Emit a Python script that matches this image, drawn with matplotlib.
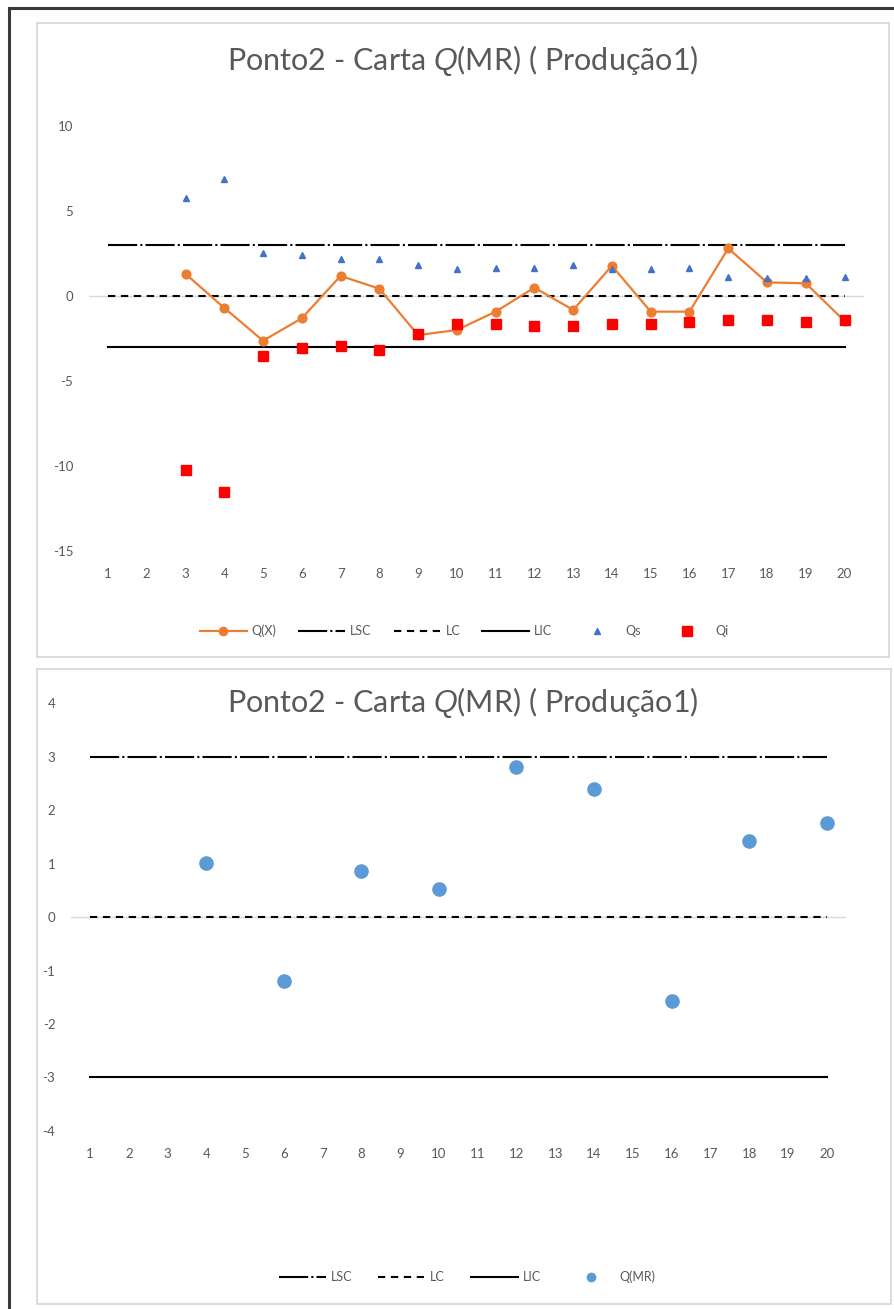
import numpy as np
import matplotlib
matplotlib.use("Agg")
import matplotlib.pyplot as plt
from matplotlib.lines import Line2D
from matplotlib.patches import Rectangle

# ---------------- data ----------------
samples = list(range(1, 21))
q_x = [np.nan, np.nan, 1.30, -0.70, -2.63, -1.31, 1.18, 0.43, -2.30, -2.00,
       -0.92, 0.49, -0.82, 1.78, -0.92, -0.92, 2.80, 0.80, 0.75, -1.47]
q_s = [np.nan, np.nan, 5.78, 6.86, 2.51, 2.39, 2.16, 2.16, 1.80, 1.57,
       1.67, 1.67, 1.80, 1.57, 1.57, 1.67, 1.10, 1.08, 1.08, 1.10]
q_i = [np.nan, np.nan, -10.23, -11.55, -3.53, -3.08, -2.94, -3.18, -2.25, -1.65,
       -1.65, -1.76, -1.76, -1.65, -1.65, -1.53, -1.41, -1.41, -1.53, -1.41]
lsc = [3.0] * 20
lc = [0.0] * 20
lic = [-3.0] * 20

q_mr = [np.nan, np.nan, np.nan, 1.01, np.nan, -1.20, np.nan, 0.86, np.nan, 0.53,
        np.nan, 2.81, np.nan, 2.40, np.nan, -1.58, np.nan, 1.43, np.nan, 1.76]

title_txt = r"Ponto2 - Carta $\mathit{Q}$(MR) ( Produção1)"
top_yticks = [-15, -10, -5, 0, 5, 10]
bot_yticks = [-4, -3, -2, -1, 0, 1, 2, 3, 4]

# ---------------- style ----------------
plt.rcParams["font.family"] = ["Lato", "DejaVu Sans"]
plt.rcParams["mathtext.fontset"] = "custom"
plt.rcParams["mathtext.it"] = "Liberation Sans:italic"
plt.rcParams["mathtext.rm"] = "Lato"
plt.rcParams["axes.unicode_minus"] = False

GRAY_TXT = "#595959"
ORANGE = "#ED7D31"
TRI = "#4472C4"
RED = "#FF0000"
BLUE = "#5B9BD5"
LSC_STYLE = (0, (14, 1.5, 1, 1.5))
LC_STYLE = (0, (3.5, 2.7))

W, H = 895, 1309
fig = plt.figure(figsize=(W / 100, H / 100), dpi=100)


def fx(px):
    return px / W


def fy(py):
    return 1 - py / H


# outer frame and chart boxes
fig.add_artist(Line2D([fx(8.5), fx(8.5)], [0, fy(7.5)], color="#3a3a3a", lw=2.2))
fig.add_artist(Line2D([fx(8.5), 1], [fy(7.5), fy(7.5)], color="#3a3a3a", lw=2.2))
for (x0, y0, x1, y1) in [(37, 23, 889, 657), (37, 669, 891, 1304)]:
    fig.add_artist(Rectangle((fx(x0), fy(y1)), fx(x1) - fx(x0), fy(y0) - fy(y1),
                             fill=False, edgecolor="#D9D9D9", lw=1.3))


def make_axes(left, right, top, bottom):
    ax = fig.add_axes([fx(left), fy(bottom), fx(right) - fx(left), fy(top) - fy(bottom)])
    for s in ax.spines.values():
        s.set_visible(False)
    ax.set_xlim(0.5, 20.5)
    ax.set_xticks(samples)
    ax.tick_params(axis="both", length=0, labelsize=9.5, labelcolor=GRAY_TXT)
    ax.tick_params(axis="x", pad=12.5)
    ax.tick_params(axis="y", pad=11)
    ax.axhline(0, color="#D9D9D9", lw=1.0, zorder=0)
    return ax


LEG_KW = dict(frameon=False, fontsize=9, labelcolor=GRAY_TXT, handlelength=3.75,
              handletextpad=0.4)

# ---------------- top chart ----------------
ax1 = make_axes(88.6, 863.9, 126, 551)
ax1.set_ylim(-15, 10)
ax1.set_yticks(top_yticks)
ax1.plot(samples, lsc, color="black", lw=1.5, ls=LSC_STYLE, zorder=2)
ax1.plot(samples, lc, color="black", lw=1.5, ls=LC_STYLE, zorder=2)
ax1.plot(samples, lic, color="black", lw=1.5, ls="-", zorder=2)
ax1.plot(samples, q_x, color=ORANGE, lw=1.6, marker="o", ms=6.3, zorder=3)
ax1.plot(samples, q_s, ls="none", marker="^", color=TRI, ms=5, zorder=4)
ax1.plot(samples, q_i, ls="none", marker="s", color=RED, ms=7, zorder=4)

fig.text(fx(463), fy(61), title_txt, ha="center", va="center",
         fontsize=22, color=GRAY_TXT)

h_top = [
    Line2D([], [], color=ORANGE, lw=1.6, marker="o", ms=6),
    Line2D([], [], color="black", lw=1.5, ls=LSC_STYLE),
    Line2D([], [], color="black", lw=1.5, ls=LC_STYLE),
    Line2D([], [], color="black", lw=1.5, ls="-"),
    Line2D([], [], ls="none", marker="^", color=TRI, ms=5),
    Line2D([], [], ls="none", marker="s", color=RED, ms=7),
]
fig.legend(h_top, ["Q(X)", "LSC", "LC", "LIC", "Qs", "Qi"], loc="center",
           bbox_to_anchor=(fx(464), fy(631)), ncol=6, columnspacing=1.75, **LEG_KW)

# ---------------- bottom chart ----------------
ax2 = make_axes(70.6, 846.0, 703.5, 1130.7)
ax2.set_ylim(-4, 4)
ax2.set_yticks(bot_yticks)
ax2.plot(samples, lsc, color="black", lw=1.5, ls=LSC_STYLE, zorder=2)
ax2.plot(samples, lc, color="black", lw=1.5, ls=LC_STYLE, zorder=2)
ax2.plot(samples, lic, color="black", lw=1.5, ls="-", zorder=2)
ax2.plot(samples, q_mr, ls="none", marker="o", color=BLUE, ms=9.5, zorder=4)

fig.text(fx(463), fy(703), title_txt, ha="center", va="center",
         fontsize=22, color=GRAY_TXT)

h_bot = [
    Line2D([], [], color="black", lw=1.5, ls=LSC_STYLE),
    Line2D([], [], color="black", lw=1.5, ls=LC_STYLE),
    Line2D([], [], color="black", lw=1.5, ls="-"),
    Line2D([], [], ls="none", marker="o", color=BLUE, ms=6),
]
fig.legend(h_bot, ["LSC", "LC", "LIC", "Q(MR)"], loc="center",
           bbox_to_anchor=(fx(467), fy(1277)), ncol=4, columnspacing=2.1, **LEG_KW)

fig.savefig("out.png", dpi=100, facecolor="white")
